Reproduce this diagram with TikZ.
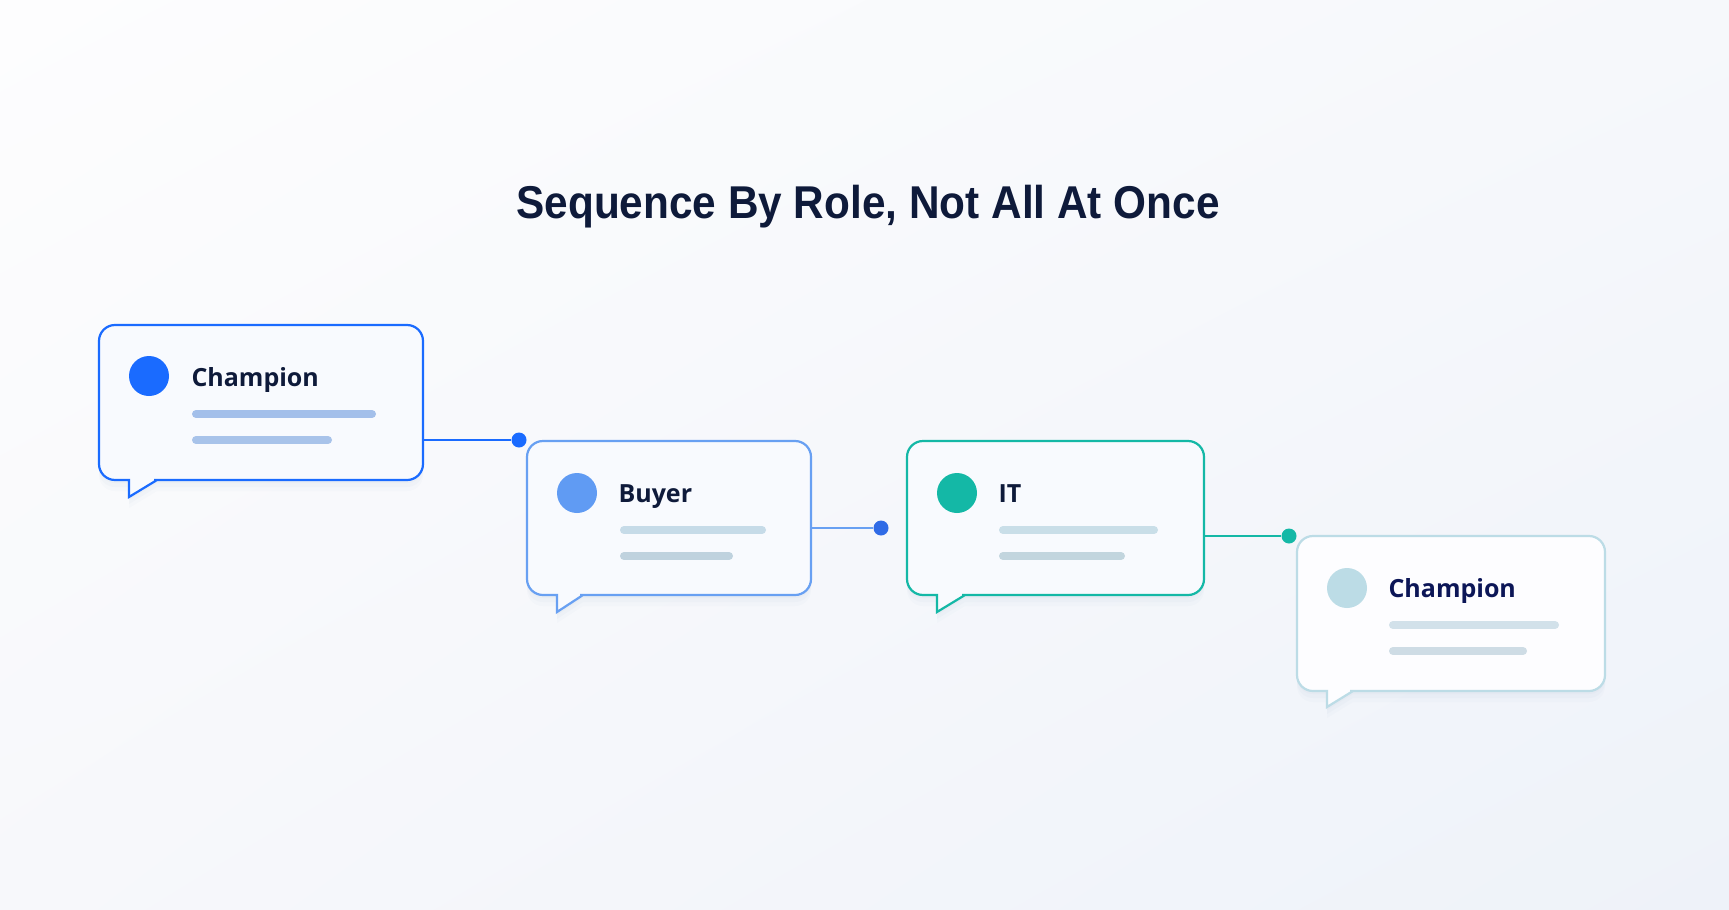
\documentclass[tikz,border=0pt]{standalone}
\usepackage{fontspec}
\usetikzlibrary{shadings}
\setmainfont{Open Sans}
\newfontfamily\titlefont{Liberation Sans}[FakeStretch=0.92]
\definecolor{ink}{HTML}{0E1A3A}
\definecolor{champblue}{HTML}{1A6BFF}
\definecolor{buyerblue}{HTML}{68A0F2}
\definecolor{buyerdot}{HTML}{2F6BE6}
\definecolor{itteal}{HTML}{14B8A6}
\definecolor{fadeblue}{HTML}{BCDCE6}
\definecolor{barA}{HTML}{A3BFEA}
\definecolor{barB}{HTML}{C6DBE8}
\definecolor{barC}{HTML}{C9DEE8}
\definecolor{barD}{HTML}{D2E1EA}
\definecolor{shadowc}{HTML}{9DAFCB}
\definecolor{boxfill}{HTML}{F8FAFE}
\definecolor{bgA}{HTML}{FDFDFE}
\definecolor{bgB}{HTML}{F6F8FB}
\definecolor{bgC}{HTML}{F7F8FB}
\definecolor{bgD}{HTML}{EEF2F9}
\begin{document}
\begin{tikzpicture}[x=1pt, y=-1pt,
	bubble/.style={line width=2.2pt, fill=boxfill,
		preaction={fill=shadowc, opacity=.05, transform canvas={yshift=-3pt}},
		preaction={fill=shadowc, opacity=.05, transform canvas={yshift=-7pt}},
		preaction={fill=shadowc, opacity=.04, transform canvas={yshift=-11pt}}},
	avatar/.style={circle, inner sep=0pt, minimum size=40pt},
	role/.style={anchor=base west, text=ink, font=\fontsize{25}{28}\selectfont\bfseries},
	bar/.style={line width=8pt, line cap=round},
	dot/.style={circle, inner sep=0pt, minimum size=15pt},
	link/.style={line width=2pt}]
	% background
	\shade[upper left=bgA, upper right=bgB, lower left=bgC, lower right=bgD] (0,0) rectangle (1729,910);
	\useasboundingbox (0,0) rectangle (1729,910);

	% title
	\node[anchor=base, text=ink, font=\titlefont\fontsize{46}{50}\selectfont\bfseries] (title) at (868,218) {Sequence By Role, Not All At Once};

	% bubble 1: Champion
	\draw[bubble, draw=champblue] (99,400) [rounded corners=16] |- (423,325) |- (170,480) [sharp corners] -- (157,480) -- (129,497) -- (129,480) -- (120,480) [rounded corners=16] -| (99,400) -- cycle;
	\node[avatar, fill=champblue] (av1) at (149,376) {};
	\node[role] (lbl1) at (188,386) {Champion};
	\draw[bar, barA] (196,414) -- (372,414);
	\draw[bar, barA!85!barB] (196,440) -- (328,440);

	% bubble 2: Buyer
	\draw[bubble, draw=buyerblue] (527,520) [rounded corners=16] |- (811,441) |- (596,595) [sharp corners] -- (583,595) -- (557,612) -- (557,595) -- (548,595) [rounded corners=16] -| (527,520) -- cycle;
	\node[avatar, fill=buyerblue!90!champblue] (av2) at (577,493) {};
	\node[role] (lbl2) at (615,502) {Buyer};
	\draw[bar, barB] (624,530) -- (762,530);
	\draw[bar, barB!90!gray] (624,556) -- (729,556);

	% bubble 3: IT
	\draw[bubble, draw=itteal] (907,520) [rounded corners=16] |- (1204,441) |- (978,595) [sharp corners] -- (965,595) -- (937,612) -- (937,595) -- (928,595) [rounded corners=16] -| (907,520) -- cycle;
	\node[avatar, fill=itteal] (av3) at (957,493) {};
	\node[role] (lbl3) at (995,502) {IT};
	\draw[bar, barC] (1003,530) -- (1154,530);
	\draw[bar, barC!90!gray] (1003,556) -- (1121,556);

	% bubble 4: Champion (faded)
	\draw[bubble, draw=fadeblue, fill=boxfill!70!blue!3] (1297,610) [rounded corners=16] |- (1605,536) |- (1366,691) [sharp corners] -- (1353,691) -- (1327,707) -- (1327,691) -- (1318,691) [rounded corners=16] -| (1297,610) -- cycle;
	\node[avatar, fill=fadeblue] (av4) at (1347,588) {};
	\node[role, text=ink!85!blue] (lbl4) at (1385,597) {Champion};
	\draw[bar, barD] (1393,625) -- (1555,625);
	\draw[bar, barD!95!gray] (1393,651) -- (1523,651);

	% connectors
	\node[dot, fill=champblue] (d1) at (519,440) {};
	\node[dot, fill=buyerdot] (d2) at (881,528) {};
	\node[dot, fill=itteal] (d3) at (1289,536) {};
	\coordinate (e1) at (423,440);
	\coordinate (e2) at (811,528);
	\coordinate (e3) at (1204,536);
	\draw[link, champblue] (e1) -- (d1);
	\draw[link, buyerblue] (e2) -- (d2);
	\draw[link, itteal] (e3) -- (d3);
\end{tikzpicture}
\end{document}
